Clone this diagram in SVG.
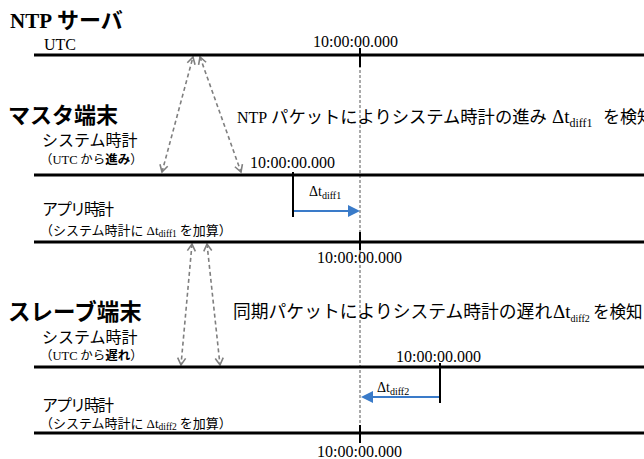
<svg xmlns="http://www.w3.org/2000/svg" width="644" height="459" viewBox="0 0 644 459">
<defs>
<style>
.bg{fill:#ffffff}
.tl{stroke:#000;stroke-width:3;fill:none}
.tk{stroke:#000;stroke-width:2;fill:none}
.vd{stroke:#555;stroke-width:1;stroke-dasharray:3,2;fill:none}
.ga{stroke:#7f7f7f;stroke-width:1.6;stroke-dasharray:4,3;fill:none;marker-start:url(#gv);marker-end:url(#gv)}
.ba{stroke:#3A7BC9;stroke-width:2;fill:none}
.bh{fill:#3A7BC9}
.se{font-family:"Liberation Serif","Times New Roman",serif;fill:#000}
.jp{font-family:"Noto Sans CJK JP","Noto Sans",sans-serif;fill:#000}
.hd{font-family:"Noto Sans CJK JP","Noto Sans",sans-serif;font-weight:bold;fill:#000}
.hs{font-family:"Liberation Serif","Times New Roman",serif;font-weight:bold}
.s{font-family:"Liberation Serif","Times New Roman",serif}
.b{font-weight:bold}
</style>
<marker id="gv" viewBox="-10 -6 12 12" refX="0" refY="0" markerWidth="12" markerHeight="12" markerUnits="userSpaceOnUse" orient="auto-start-reverse">
<path d="M-7,-4 L0,0 L-7,4" fill="none" stroke="#7f7f7f" stroke-width="1.6" stroke-dasharray="none"/>
</marker>
</defs>
<rect class="bg" x="0" y="0" width="644" height="459"/>

<g id="connectors">
<line class="vd" x1="360" y1="55" x2="360" y2="443"/>
<line class="ga" x1="162" y1="172" x2="193" y2="57"/>
<line class="ga" x1="200" y1="57" x2="241" y2="172"/>
<line class="ga" x1="192" y1="244" x2="181" y2="365"/>
<line class="ga" x1="207" y1="244" x2="220" y2="365"/>
<line class="ba" x1="293" y1="211" x2="350" y2="211"/>
<path class="bh" d="M360,211 L348,205 L348,217 Z"/>
<line class="ba" x1="440" y1="397" x2="371" y2="397"/>
<path class="bh" d="M361,397 L373,391 L373,403 Z"/>
</g>

<g id="ntp-server">
<text class="hd" x="10" y="28" font-size="22"><tspan class="hs" font-size="21">NTP</tspan> サーバ</text>
<text class="se" x="44" y="50" font-size="16">UTC</text>
<line class="tl" x1="34" y1="55" x2="644" y2="55"/>
<line class="tk" x1="360" y1="48" x2="360" y2="67"/>
<text class="se" x="313" y="47" font-size="16">10:00:00.000</text>
</g>

<g id="master">
<text class="hd" x="8" y="123" font-size="22">マスタ端末</text>
<text class="jp" x="237" y="123" font-size="17.3"><tspan class="s" font-size="16">NTP</tspan> パケットによりシステム時計の進み <tspan class="s" font-size="19" x="552">Δt</tspan><tspan class="s" font-size="12" dy="4">diff1</tspan><tspan dy="-4" x="603" font-size="17">を検知</tspan></text>
<text class="jp" x="42" y="146" font-size="16">システム時計</text>
<text class="jp" x="40" y="164" font-size="12.5">（<tspan class="s">UTC</tspan> から<tspan class="b">進み</tspan>）</text>
<line class="tl" x1="34" y1="175" x2="644" y2="175"/>
<line class="tk" x1="293" y1="172" x2="293" y2="217"/>
<text class="se" x="250" y="168" font-size="16">10:00:00.000</text>
<text class="se" x="309" y="196" font-size="14">Δt<tspan font-size="10" dy="3">diff1</tspan></text>
<text class="jp" x="42" y="215" font-size="16" letter-spacing="-2">アプリ時計</text>
<text class="jp" x="40" y="235" font-size="13">（システム時計に <tspan class="s">Δt</tspan><tspan class="s" font-size="9.5" dy="2">diff1</tspan><tspan dy="-2"> を加算）</tspan></text>
<line class="tl" x1="34" y1="242" x2="644" y2="242"/>
<line class="tk" x1="360" y1="232" x2="360" y2="250"/>
<text class="se" x="317" y="263" font-size="16">10:00:00.000</text>
</g>

<g id="slave">
<text class="hd" x="8" y="320" font-size="22.5">スレーブ端末</text>
<text class="jp" x="233" y="318" font-size="17.8">同期パケットによりシステム時計の遅れ<tspan class="s" font-size="19" x="553">Δt</tspan><tspan class="s" font-size="10" dy="4">diff2</tspan><tspan dy="-4" x="593" font-size="16.5">を検知</tspan></text>
<text class="jp" x="42" y="343" font-size="16">システム時計</text>
<text class="jp" x="40" y="360" font-size="12.5">（<tspan class="s">UTC</tspan> から<tspan class="b">遅れ</tspan>）</text>
<line class="tl" x1="34" y1="367" x2="644" y2="367"/>
<line class="tk" x1="440" y1="363" x2="440" y2="403"/>
<text class="se" x="396" y="362" font-size="16">10:00:00.000</text>
<text class="se" x="377" y="392" font-size="14">Δt<tspan font-size="10" dy="3">diff2</tspan></text>
<text class="jp" x="42" y="411" font-size="16" letter-spacing="-2">アプリ時計</text>
<text class="jp" x="40" y="428" font-size="13">（システム時計に <tspan class="s">Δt</tspan><tspan class="s" font-size="9.5" dy="2">diff2</tspan><tspan dy="-2"> を加算）</tspan></text>
<line class="tl" x1="34" y1="433" x2="644" y2="433"/>
<line class="tk" x1="360" y1="425" x2="360" y2="443"/>
<text class="se" x="317" y="457" font-size="16">10:00:00.000</text>
</g>
</svg>
